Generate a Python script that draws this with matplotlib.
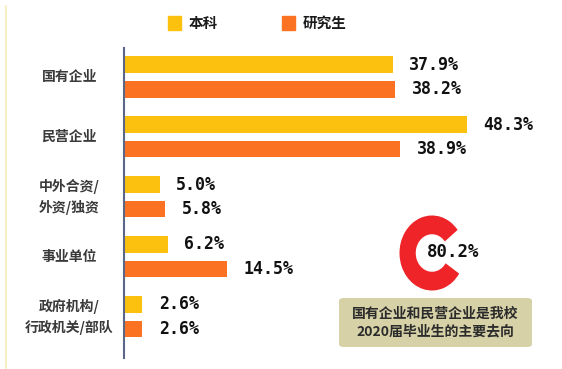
import matplotlib
matplotlib.use('Agg')
from matplotlib import pyplot
from matplotlib.patches import FancyBboxPatch, Rectangle
from matplotlib.lines import Line2D

pyplot.rcParams['font.family'] = ['Noto Sans CJK SC', 'DejaVu Sans']

# Data
categories = ['国有企业', '民营企业', '中外合资/\n外资/独资', '事业单位', '政府机构/\n行政机关/部队']
undergrad = [37.9, 48.3, 5.0, 6.2, 2.6]
graduate = [38.2, 38.9, 5.8, 14.5, 2.6]
series_names = ['本科', '研究生']
share_main = 80.2
note = '国有企业和民营企业是我校\n2020届毕业生的主要去向'

yellow = '#fcc10f'
orange = '#fa7222'
red = '#ee2428'
W, H = 562, 369

fig = pyplot.figure(figsize=(W / 100, H / 100), dpi=100)
fig.patch.set_facecolor('white')

# faint left border line
fig.add_artist(Line2D([6 / W, 6 / W], [0, 1 - 6 / H], color='#f3efb8',
                      linewidth=1.2, transform=fig.transFigure))

# Bar chart axes (pixel placement)
x0, y_top, y_bot = 124, 48, 358
ax = fig.add_axes([x0 / W, (H - y_bot) / H, (W - x0) / W, (y_bot - y_top) / H])
ax.set_xlim(0, (W - x0) / 7.1)
ax.set_ylim(4.69, -0.484)
ax.axis('off')
ax.plot([0, 0], [4.69, -0.484], color='#5b6688', linewidth=1.5, clip_on=False)

pos = list(range(len(categories)))
off, h = 0.205, 0.275
ax.barh([p - off for p in pos], undergrad, height=h, color=yellow)
ax.barh([p + off for p in pos], graduate, height=h, color=orange)

for p, u, g in zip(pos, undergrad, graduate):
    ax.text(u + 2.3, p - off, f'{u:.1f}%', va='center', ha='left',
            fontsize=12, fontweight='bold', family='DejaVu Sans Mono', color='#111111')
    ax.text(g + 2.3, p + off, f'{g:.1f}%', va='center', ha='left',
            fontsize=12, fontweight='bold', family='DejaVu Sans Mono', color='#111111')

for p, c in zip(pos, categories):
    ax.text(-7.7, p, c, ha='center', va='center', fontsize=10,
            fontweight='bold', color='#3a3a3a', linespacing=1.5)

# Legend
for (lx, name, col) in [(168, series_names[0], yellow), (282, series_names[1], orange)]:
    fig.add_artist(Rectangle((lx / W, (H - 30) / H), 13 / W, 14 / H,
                             color=col, transform=fig.transFigure))
    fig.text((lx + 21) / W, (H - 23) / H, name, ha='left', va='center',
             fontsize=10.5, fontweight='bold', color='#1a1a1a')

# Donut
cx, cy, rx, ry = 432, 253, 32.5, 37.5
dax = fig.add_axes([(cx - rx) / W, (H - cy - ry) / H, 2 * rx / W, 2 * ry / H])
dax.pie([share_main, 100 - share_main], colors=[red, 'none'], startangle=38,
        wedgeprops=dict(width=0.5), radius=1.0)
dax.set_aspect('auto')
dax.set_xlim(-1, 1)
dax.set_ylim(-1, 1)
dax.axis('off')
fig.text(427 / W, (H - 252) / H, f'{share_main:.1f}%', ha='left', va='center',
         fontsize=12.5, fontweight='bold', family='DejaVu Sans Mono', color='#111111')

# Note box
bx0, by0, bx1, by1 = 339, 298, 532, 347
fig.add_artist(FancyBboxPatch((bx0 / W, (H - by1) / H), (bx1 - bx0) / W, (by1 - by0) / H,
                              boxstyle='round,pad=0,rounding_size=0.008',
                              facecolor='#d7d1a8', edgecolor='none',
                              transform=fig.transFigure))
fig.text((bx0 + bx1) / 2 / W, (H - 322.5) / H, note, ha='center', va='center',
         fontsize=10, fontweight='bold', color='#2b2b2b', linespacing=1.35)

fig.savefig('out.png', dpi=100, facecolor='white')
